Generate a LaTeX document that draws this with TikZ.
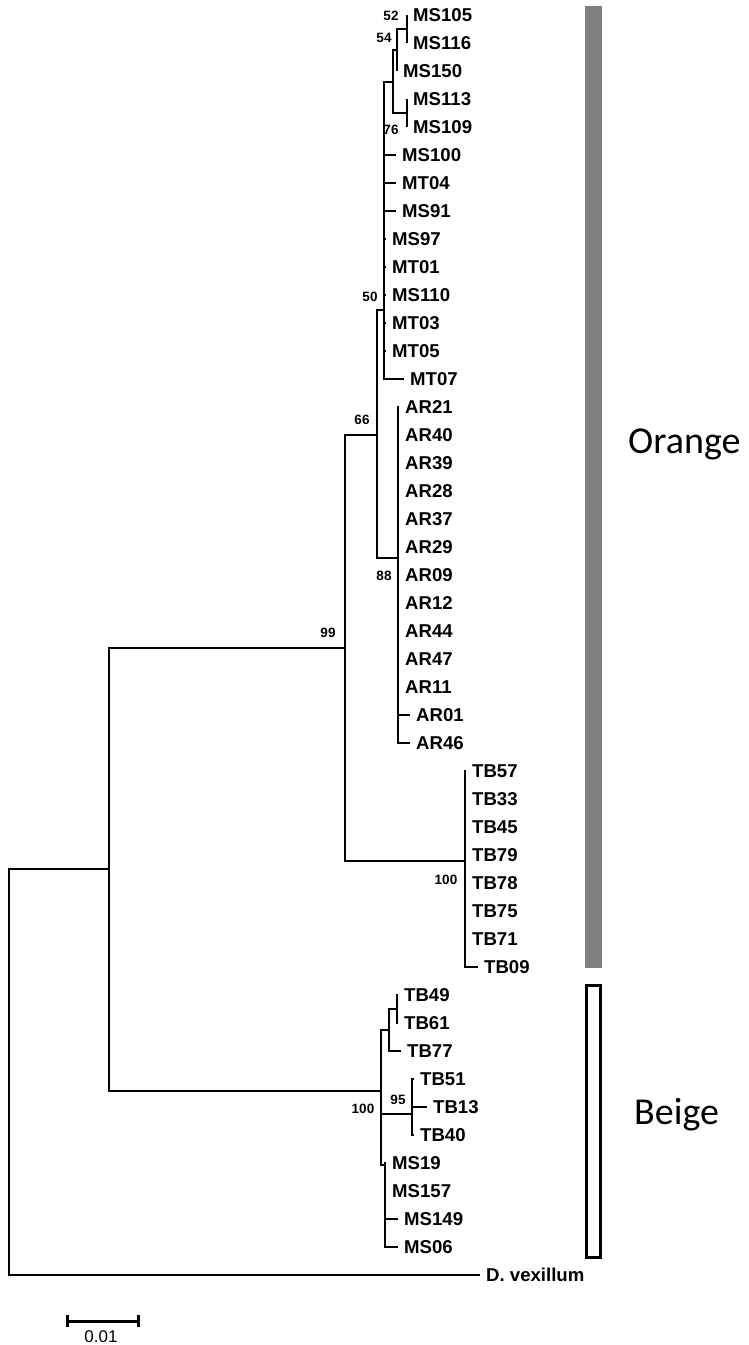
\documentclass[tikz,border=0pt]{standalone}
\usepackage{fontspec}
\setmainfont{Liberation Sans}
\newfontfamily\cladefont{Carlito}
\usepackage{tikz}
\usetikzlibrary{positioning}

\begin{document}
\begin{tikzpicture}[
    x=1pt, y=-1pt,
    leaf/.style={anchor=west, inner xsep=6pt, inner ysep=0pt, text height=13pt, text depth=0pt, font=\fontsize{18.6}{20}\selectfont\bfseries},
    boot/.style={inner sep=0pt, font=\fontsize{13.5}{14}\selectfont\bfseries},
    branch/.style={line width=1.5pt},
    cladename/.style={anchor=west, inner sep=0pt, font=\fontsize{38}{40}\selectfont\cladefont},
    scalebar/.style={line width=3pt}
]
\useasboundingbox (0,0) rectangle (748,1345);

\node[leaf] (ms105) at (407,15) {MS105};
\node[leaf] (ms116) at (407,43) {MS116};
\node[leaf] (ms150) at (397,71) {MS150};
\node[leaf] (ms113) at (407,99) {MS113};
\node[leaf] (ms109) at (407,127) {MS109};
\node[leaf] (ms100) at (396,155) {MS100};
\node[leaf] (mt04) at (396,183) {MT04};
\node[leaf] (ms91) at (396,211) {MS91};
\node[leaf] (ms97) at (386,239) {MS97};
\node[leaf] (mt01) at (386,267) {MT01};
\node[leaf] (ms110) at (386,295) {MS110};
\node[leaf] (mt03) at (386,323) {MT03};
\node[leaf] (mt05) at (386,351) {MT05};
\node[leaf] (mt07) at (404,379) {MT07};
\node[leaf] (ar21) at (399,407) {AR21};
\node[leaf] (ar40) at (399,435) {AR40};
\node[leaf] (ar39) at (399,463) {AR39};
\node[leaf] (ar28) at (399,491) {AR28};
\node[leaf] (ar37) at (399,519) {AR37};
\node[leaf] (ar29) at (399,547) {AR29};
\node[leaf] (ar09) at (399,575) {AR09};
\node[leaf] (ar12) at (399,603) {AR12};
\node[leaf] (ar44) at (399,631) {AR44};
\node[leaf] (ar47) at (399,659) {AR47};
\node[leaf] (ar11) at (399,687) {AR11};
\node[leaf] (ar01) at (410,715) {AR01};
\node[leaf] (ar46) at (410,743) {AR46};
\node[leaf] (tb57) at (466,771) {TB57};
\node[leaf] (tb33) at (466,799) {TB33};
\node[leaf] (tb45) at (466,827) {TB45};
\node[leaf] (tb79) at (466,855) {TB79};
\node[leaf] (tb78) at (466,883) {TB78};
\node[leaf] (tb75) at (466,911) {TB75};
\node[leaf] (tb71) at (466,939) {TB71};
\node[leaf] (tb09) at (478,967) {TB09};
\node[leaf] (tb49) at (398,995) {TB49};
\node[leaf] (tb61) at (398,1023) {TB61};
\node[leaf] (tb77) at (401,1051) {TB77};
\node[leaf] (tb51) at (414,1079) {TB51};
\node[leaf] (tb13) at (427,1107) {TB13};
\node[leaf] (tb40) at (414,1135) {TB40};
\node[leaf] (ms19) at (386,1163) {MS19};
\node[leaf] (ms157) at (386,1191) {MS157};
\node[leaf] (ms149) at (398,1219) {MS149};
\node[leaf] (ms06) at (398,1247) {MS06};
\node[leaf] (dvex) at (480,1275) {D. vexillum};

\coordinate (n52) at (407,29);
\coordinate (n54) at (397,50);
\coordinate (n113) at (407,113);
\coordinate (n76) at (393,82);
\coordinate (n50) at (384,310);
\coordinate (n88) at (398,558);
\coordinate (n66) at (377,435);
\coordinate (ntb) at (465,861);
\coordinate (n99) at (345,648);
\coordinate (n49) at (397,1009);
\coordinate (n77) at (389,1030);
\coordinate (n95) at (412,1114);
\coordinate (nms) at (385,1165);
\coordinate (nbeige) at (381,1091);
\coordinate (nsplit) at (109,869);
\coordinate (root) at (9,1072);

\draw[branch] (n52) |- (ms105.west);
\draw[branch] (n52) |- (ms116.west);
\draw[branch] (n54) |- (n52);
\draw[branch] (n54) |- (ms150.west);
\draw[branch] (n113) |- (ms113.west);
\draw[branch] (n113) |- (ms109.west);
\draw[branch] (n76) |- (n54);
\draw[branch] (n76) |- (n113);
\draw[branch] (n50) |- (n76);
\draw[branch] (n50) |- (ms100.west);
\draw[branch] (n50) |- (mt04.west);
\draw[branch] (n50) |- (ms91.west);
\draw[branch] (n50) |- (ms97.west);
\draw[branch] (n50) |- (mt01.west);
\draw[branch] (n50) |- (ms110.west);
\draw[branch] (n50) |- (mt03.west);
\draw[branch] (n50) |- (mt05.west);
\draw[branch] (n50) |- (mt07.west);
\draw[branch] (n88) |- (ar21.west);
\draw[branch] (n88) |- (ar11.west);
\draw[branch] (n88) |- (ar01.west);
\draw[branch] (n88) |- (ar46.west);
\draw[branch] (n66) |- (n50);
\draw[branch] (n66) |- (n88);
\draw[branch] (ntb) |- (tb57.west);
\draw[branch] (ntb) |- (tb71.west);
\draw[branch] (ntb) |- (tb09.west);
\draw[branch] (n99) |- (n66);
\draw[branch] (n99) |- (ntb);
\draw[branch] (n49) |- (tb49.west);
\draw[branch] (n49) |- (tb61.west);
\draw[branch] (n77) |- (n49);
\draw[branch] (n77) |- (tb77.west);
\draw[branch] (n95) |- (tb51.west);
\draw[branch] (n95) |- (tb13.west);
\draw[branch] (n95) |- (tb40.west);
\draw[branch] (nms) |- (ms19.west);
\draw[branch] (nms) |- (ms157.west);
\draw[branch] (nms) |- (ms149.west);
\draw[branch] (nms) |- (ms06.west);
\draw[branch] (nbeige) |- (n77);
\draw[branch] (nbeige) |- (n95);
\draw[branch] (nbeige) |- (nms);
\draw[branch] (nsplit) |- (n99);
\draw[branch] (nsplit) |- (nbeige);
\draw[branch] (root) |- (nsplit);
\draw[branch] (root) |- (dvex.west);

\node[boot] (b52) at (391,16) {52};
\node[boot] (b54) at (384,38) {54};
\node[boot] (b76) at (391,130) {76};
\node[boot] (b50) at (370,297) {50};
\node[boot] (b66) at (362,420) {66};
\node[boot] (b88) at (384,576) {88};
\node[boot] (b99) at (328,633) {99};
\node[boot] (btb) at (446,880) {100};
\node[boot] (b95) at (398,1100) {95};
\node[boot] (bbeige) at (363,1109) {100};

\fill[gray] (585,6) rectangle (602,968);
\draw[line width=3pt] (586,985) rectangle (600,1257);
\node[cladename] (orange) at (628,444) {Orange};
\node[cladename] (beige) at (634,1115) {Beige};

\coordinate (sbl) at (67,1321);
\coordinate (sbr) at (138,1321);
\draw[scalebar] (sbl) -- (sbr);
\draw[scalebar] ([yshift=-6pt]sbl) -- ([yshift=6pt]sbl);
\draw[scalebar] ([yshift=-6pt]sbr) -- ([yshift=6pt]sbr);
\node[inner sep=0pt, font=\fontsize{17}{18}\selectfont] (sblabel) at (101,1337) {0.01};
\end{tikzpicture}
\end{document}
